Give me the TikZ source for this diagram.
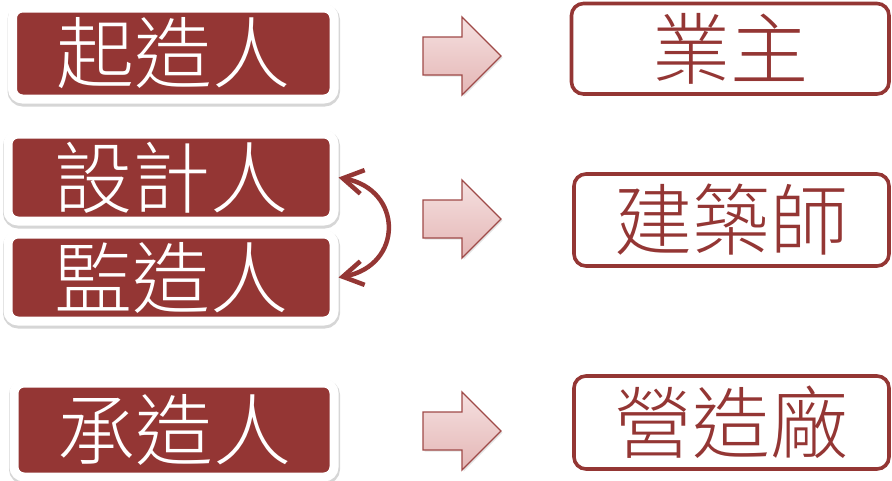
\documentclass[tikz,border=0pt]{standalone}
\usepackage{fontspec}
\IfFontExistsTF{Noto Sans CJK TC Light}{\newfontfamily\cjk{Noto Sans CJK TC Light}}{\newfontfamily\cjk{Noto Sans CJK TC}}
\usetikzlibrary{shadows,arrows.meta}
\definecolor{dred}{HTML}{943634}
\definecolor{pinkA}{HTML}{F5E0E0}
\definecolor{pinkB}{HTML}{E4B6B5}
\tikzset{
  bigtext/.style={font=\cjk\fontsize{78}{78}\selectfont},
  rolebox/.style={bigtext, rounded corners=10pt, fill=dred, draw=white, line width=9pt,
    text=white, inner sep=0pt,
    preaction={draw=black!16, line width=11pt, transform canvas={shift={(0.5pt,-2pt)}}}},
  partybox/.style={bigtext, rounded corners=12pt, fill=white, draw=dred, line width=3.6pt,
    text=dred, inner sep=0pt},
  blockarrow/.style={draw=dred!90, line width=1.3pt, top color=pinkA, bottom color=pinkB,
    line join=miter, drop shadow={opacity=0.22, shadow xshift=1.5pt, shadow yshift=-1.5pt}},
  linkarrow/.style={draw=dred, line width=4.5pt, line cap=round, line join=round,
    {Straight Barb[length=20pt,width=24pt]}-{Straight Barb[length=20pt,width=24pt]}},
}
\begin{document}
\begin{tikzpicture}[x=1pt,y=-1pt]
\useasboundingbox (0,0) rectangle (892,480);
% left boxes
\node[rolebox, minimum width=321.5pt, minimum height=91pt] (L1) at (173.25,53.5) {起造人};
\node[rolebox, minimum width=326pt, minimum height=87pt] (L2) at (171,177.5) {設計人};
\node[rolebox, minimum width=326pt, minimum height=87pt] (L3) at (171,277.5) {監造人};
\node[rolebox, minimum width=320pt, minimum height=94pt] (L4) at (174,430) {承造人};
% right boxes
\node[partybox, minimum width=317.5pt, minimum height=90.5pt] (R1) at (730.25,48.75) {業主};
\node[partybox, minimum width=315pt, minimum height=92pt] (R2) at (731.5,220) {建築師};
\node[partybox, minimum width=315pt, minimum height=93pt] (R3) at (731.5,422.5) {營造廠};
% block arrows
\path[blockarrow] (423,37)--(462,37)--(462,17)--(501,56)--(462,95)--(462,75)--(423,75)--cycle;
\path[blockarrow] (423,200)--(462,200)--(462,180)--(501,219)--(462,258)--(462,238)--(423,238)--cycle;
\path[blockarrow] (423,412)--(462,412)--(462,392)--(501,431)--(462,470)--(462,450)--(423,450)--cycle;
% curved double arrow
\draw[linkarrow] (L2.east) .. controls +(65,12) and +(65,-12) .. (L3.east);
\end{tikzpicture}
\end{document}
